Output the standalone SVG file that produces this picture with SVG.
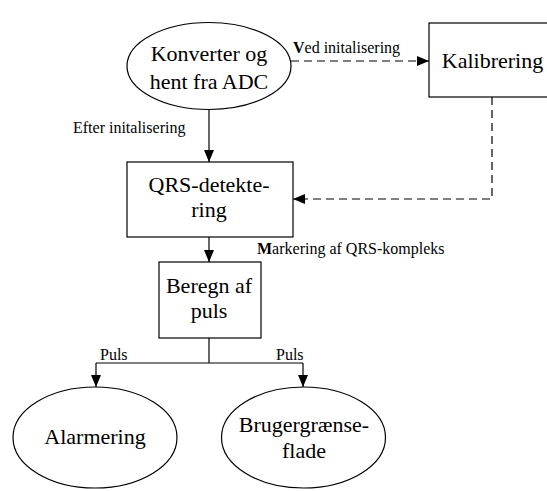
<svg xmlns="http://www.w3.org/2000/svg" width="547" height="491" viewBox="0 0 547 491">
<defs>
<marker id="ah" markerWidth="12" markerHeight="10" refX="12" refY="5" orient="auto" markerUnits="userSpaceOnUse">
<path d="M0,0 L12,5 L0,10 Z" fill="#000"/>
</marker>
</defs>
<rect width="547" height="491" fill="#fff"/>
<g id="connectors" fill="none" stroke="#000" stroke-width="1.2">
<path stroke-dasharray="8,5" d="M291,61 H429" marker-end="url(#ah)"/>
<path stroke-dasharray="8,5" d="M492,97 V199 H293" marker-end="url(#ah)"/>
<path d="M209,110 V162" marker-end="url(#ah)"/>
<path d="M209,237 V262" marker-end="url(#ah)"/>
<path d="M209,338 V363"/>
<path d="M96,363 H303"/>
<path d="M96,363 V387" marker-end="url(#ah)"/>
<path d="M303,363 V387" marker-end="url(#ah)"/>
<g stroke="none" fill="#000" font-family="Liberation Serif" font-size="16">
<text x="293" y="53"><tspan font-weight="bold">V</tspan>ed initalisering</text>
<text x="73" y="133">Efter initalisering</text>
<text x="257" y="254"><tspan font-weight="bold">M</tspan>arkering af QRS-kompleks</text>
<text x="100" y="360">Puls</text>
<text x="276" y="360">Puls</text>
</g>
</g>
<g id="nodes" fill="#fff" stroke="#000" stroke-width="1.2">
<g id="konverter">
<ellipse cx="209" cy="66" rx="82" ry="43.5"/>
</g>
<g id="kalibrering">
<rect x="429" y="23" width="127" height="74"/>
</g>
<g id="qrs">
<rect x="127" y="162" width="166" height="75"/>
</g>
<g id="beregn">
<rect x="159" y="262" width="102" height="76"/>
</g>
<g id="alarmering">
<ellipse cx="95" cy="437.5" rx="82" ry="50.5"/>
</g>
<g id="brugergraenseflade">
<ellipse cx="303.5" cy="437.5" rx="82" ry="50.5"/>
</g>
</g>
<g id="node-labels" fill="#000" font-family="Liberation Serif" font-size="22" text-anchor="middle">
<text x="209" y="61">Konverter og</text>
<text x="209" y="89">hent fra ADC</text>
<text x="492.5" y="68">Kalibrering</text>
<text x="209" y="192">QRS-detekte-</text>
<text x="209" y="217">ring</text>
<text x="209" y="293">Beregn af</text>
<text x="209" y="318">puls</text>
<text x="95" y="444">Alarmering</text>
<text x="304" y="432">Brugergrænse-</text>
<text x="304" y="458">flade</text>
</g>
</svg>
